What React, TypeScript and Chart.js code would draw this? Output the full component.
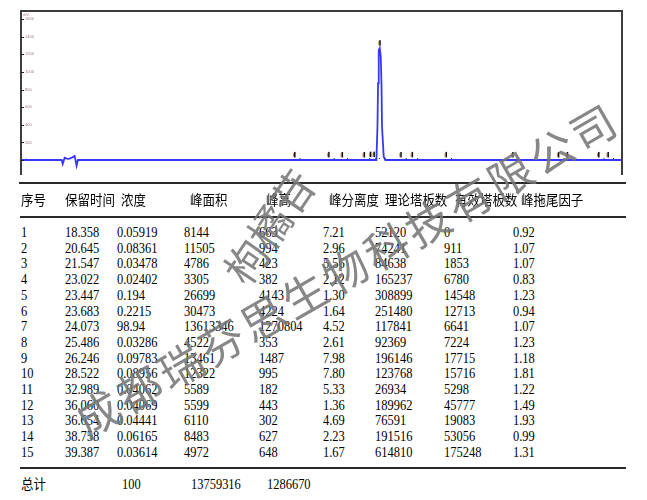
import React, { useEffect, useRef } from "react";
import { Chart, registerables } from "chart.js";
Chart.register(...registerables);

// ---- chromatogram trace (time in min, signal in mV) ----
const traceTimes = [0, 2.73, 2.8, 2.93, 3.11, 3.26, 3.45, 3.6, 3.73, 3.82, 23.85, 23.92, 23.96, 24.006, 24.073, 24.14, 24.19, 24.227, 24.34, 24.45, 40.33];
const traceValues = [0, 0, -45, 26, 12, 15, 30, 45, -65, 0, 0, 378, 871, 1250, 1270.8, 1174, 871, 378, 37, 0, 0];

const xTickValues = [4, 8, 12, 16, 20, 24, 28, 32, 36, 40];
const yTickValues = [0, 200, 400, 600, 800, 1000, 1200, 1400, 1600];

// ---- peak table ----
const headers = ["序号", "保留时间", "浓度", "峰面积", "峰高", "峰分离度", "理论塔板数", "有效塔板数", "峰拖尾因子"];
const peakNo = [1, 2, 3, 4, 5, 6, 7, 8, 9, 10, 11, 12, 13, 14, 15];
const retentionTimes = [18.358, 20.645, 21.547, 23.022, 23.447, 23.683, 24.073, 25.486, 26.246, 28.522, 32.989, 36.06, 36.654, 38.758, 39.387];
const concentrations = ["0.05919", "0.08361", "0.03478", "0.02402", "0.194", "0.2215", "98.94", "0.03286", "0.09783", "0.08956", "0.04062", "0.04069", "0.04441", "0.06165", "0.03614"];
const peakAreas = [8144, 11505, 4786, 3305, 26699, 30473, 13613346, 4522, 13461, 12322, 5589, 5599, 6110, 8483, 4972];
const peakHeights = [663, 994, 423, 382, 4143, 4224, 1270804, 353, 1487, 995, 182, 443, 302, 627, 648];
const resolutions = [7.21, 2.96, 5.56, 2.12, 1.3, 1.64, 4.52, 2.61, 7.98, 7.8, 5.33, 1.36, 4.69, 2.23, 1.67];
const theoreticalPlates = [52120, 74241, 84638, 165237, 308899, 251480, 117841, 92369, 196146, 123768, 26934, 189962, 76591, 191516, 614810];
const effectivePlates = [0, 911, 1853, 6780, 14548, 12713, 6641, 7224, 17715, 15716, 5298, 45777, 19083, 53056, 175248];
const tailingFactors = [0.92, 1.07, 1.07, 0.83, 1.23, 0.94, 1.07, 1.23, 1.18, 1.81, 1.22, 1.49, 1.93, 0.99, 1.31];
const totalLabel = "总计";
const totalConcentration = "100";
const totalArea = 13759316;
const totalHeight = 1286670;

const watermarkCompany = "成都瑞芬思生物科技有限公司";
const watermarkCompound = "枸橘苷";

const overlayPlugin = {
  id: "overlay",
  afterDatasetsDraw(chart: any) {
    const { ctx, chartArea: a, scales } = chart;
    const x = scales.x;
    const y = scales.y;
    ctx.save();
    ctx.strokeStyle = "#3c3c3c";
    ctx.lineWidth = 2;
    ctx.beginPath();
    ctx.moveTo(a.left, a.bottom + 4);
    ctx.lineTo(a.left, a.top);
    ctx.lineTo(a.right, a.top);
    ctx.lineTo(a.right, a.bottom + 4);
    ctx.stroke();
    ctx.lineWidth = 1;
    ctx.strokeStyle = "#222";
    y.ticks.forEach((t: any) => {
      const py = Math.round(y.getPixelForValue(t.value)) + 0.5;
      ctx.beginPath();
      ctx.moveTo(a.left, py);
      ctx.lineTo(a.left + 3, py);
      ctx.stroke();
    });
    ctx.fillStyle = "#9a7a7a";
    ctx.font = "4px sans-serif";
    ctx.fillText("mV", a.left + 2, a.top + 5);
    const base = y.getPixelForValue(0);
    retentionTimes.forEach((rt, i) => {
      const px = x.getPixelForValue(rt);
      const py = y.getPixelForValue(peakHeights[i] / 1000);
      ctx.fillStyle = "#d08a3a";
      ctx.fillRect(px - 1.5, py - 7, 1, 4);
      ctx.fillStyle = "#111";
      ctx.fillRect(px - 0.5, py - 8, 1.5, 5.5);
      ctx.fillStyle = "#333";
      ctx.fillRect(px + 5, base - 2, 1, 1);
    });
    ctx.restore();
  },
};

function ChromChart() {
  const ref = useRef<HTMLCanvasElement | null>(null);
  useEffect(() => {
    if (!ref.current) return;
    const chart = new Chart(ref.current, {
      type: "line",
      data: {
        datasets: [
          {
            data: traceTimes.map((t, i) => ({ x: t, y: traceValues[i] })),
            borderColor: "rgb(55,55,250)",
            borderWidth: 1.8,
            pointRadius: 0,
            tension: 0,
            fill: false,
          },
        ],
      },
      options: {
        animation: false,
        responsive: false,
        events: [],
        layout: { padding: { left: 21, top: 11, right: 25, bottom: 13 } },
        plugins: { legend: { display: false }, tooltip: { enabled: false } },
        scales: {
          x: {
            type: "linear",
            min: 0,
            max: 40.33,
            afterFit: (s: any) => {
              s.height = 6;
            },
            afterBuildTicks: (s: any) => {
              s.ticks = xTickValues.map((v) => ({ value: v }));
            },
            grid: { display: false },
            border: { display: false },
            ticks: {
              font: { size: 4 },
              color: "#8a7a7a",
              padding: 0,
              maxRotation: 0,
              autoSkip: false,
              callback: (v: any) => String(v),
            },
          },
          y: {
            type: "linear",
            min: -125,
            max: 1693,
            afterFit: (s: any) => {
              s.width = 0;
            },
            afterBuildTicks: (s: any) => {
              s.ticks = yTickValues.map((v) => ({ value: v }));
            },
            grid: { display: false },
            border: { display: false },
            ticks: {
              mirror: true,
              padding: 4,
              font: { size: 4 },
              color: "#9a7a7a",
              callback: (v: any) => String(v),
            },
          },
        },
      },
      plugins: [overlayPlugin],
    } as any);
    return () => chart.destroy();
  }, []);
  return <canvas ref={ref} width={647} height={190} style={{ position: "absolute", left: 0, top: 0 }} />;
}

const NUM_FONT = "'Liberation Serif', 'Times New Roman', serif";
const CJK_FONT = "'Noto Sans CJK SC', 'Noto Sans', sans-serif";

function Cell({ text, x, baseline, cjk }: { text: string; x: number; baseline: number; cjk?: boolean }) {
  const size = cjk ? 14 : 15;
  const offset = cjk ? 13.1 : 12.57;
  return (
    <span
      style={{
        position: "absolute",
        left: x,
        top: baseline - offset,
        fontFamily: cjk ? CJK_FONT : NUM_FONT,
        fontSize: size,
        lineHeight: `${size}px`,
        transform: cjk ? "scaleX(0.89)" : "scaleX(0.83)",
        transformOrigin: "left top",
        whiteSpace: "nowrap",
        color: "#000",
      }}
    >
      {text}
    </span>
  );
}

export default function App() {
  const headerX = [21, 65, 120.7, 190, 265.7, 329.3, 385, 455, 520.7];
  const colX = [21, 65, 117.3, 184.3, 259.3, 322.7, 375, 444, 513.3];
  const rowBase0 = 237.7;
  const rowStep = 15.68;
  const cells: any[] = [];
  headers.forEach((h, i) => cells.push(<Cell key={"h" + i} text={h} x={headerX[i]} baseline={205.5} cjk />));
  peakNo.forEach((n, r) => {
    const b = rowBase0 + r * rowStep;
    const vals = [
      String(n),
      retentionTimes[r].toFixed(3),
      concentrations[r],
      String(peakAreas[r]),
      String(peakHeights[r]),
      resolutions[r].toFixed(2),
      String(theoreticalPlates[r]),
      String(effectivePlates[r]),
      tailingFactors[r].toFixed(2),
    ];
    vals.forEach((v, c) => cells.push(<Cell key={`r${r}c${c}`} text={v} x={colX[c]} baseline={b} />));
  });
  cells.push(<Cell key="t0" text={totalLabel} x={21} baseline={489.3} cjk />);
  cells.push(<Cell key="t1" text={totalConcentration} x={121.7} baseline={489.3} />);
  cells.push(<Cell key="t2" text={String(totalArea)} x={191} baseline={489.3} />);
  cells.push(<Cell key="t3" text={String(totalHeight)} x={266.7} baseline={489.3} />);

  const rule = (top: number, left: number, width: number, h: number, key: string) => (
    <div key={key} style={{ position: "absolute", left, top, width, height: h, background: "#2a2a2a" }} />
  );

  return (
    <div style={{ position: "fixed", left: 0, top: 0, width: 647, height: 500, background: "#fff", overflow: "hidden" }}>
      <ChromChart />
      {rule(182, 19, 607, 2, "l1")}
      {rule(216, 20, 606, 1.7, "l2")}
      {rule(467, 20, 606, 2, "l3")}
      {cells}
      <div
        style={{
          position: "absolute",
          left: 346,
          top: 268,
          transform: "translate(-50%, -50%) rotate(-30deg)",
          fontFamily: CJK_FONT,
          fontSize: 44,
          fontWeight: 400,
          letterSpacing: 3.6,
          lineHeight: 1,
          whiteSpace: "nowrap",
          color: "rgba(118,118,118,0.88)",
          pointerEvents: "none",
        }}
      >
        {watermarkCompany}
      </div>
      <div
        style={{
          position: "absolute",
          left: 268,
          top: 226,
          transform: "translate(-50%, -50%) rotate(-56deg)",
          fontFamily: CJK_FONT,
          fontSize: 42,
          fontWeight: 400,
          lineHeight: 1,
          letterSpacing: 0,
          whiteSpace: "nowrap",
          color: "rgba(118,118,118,0.88)",
          pointerEvents: "none",
        }}
      >
        {watermarkCompound}
      </div>
    </div>
  );
}
